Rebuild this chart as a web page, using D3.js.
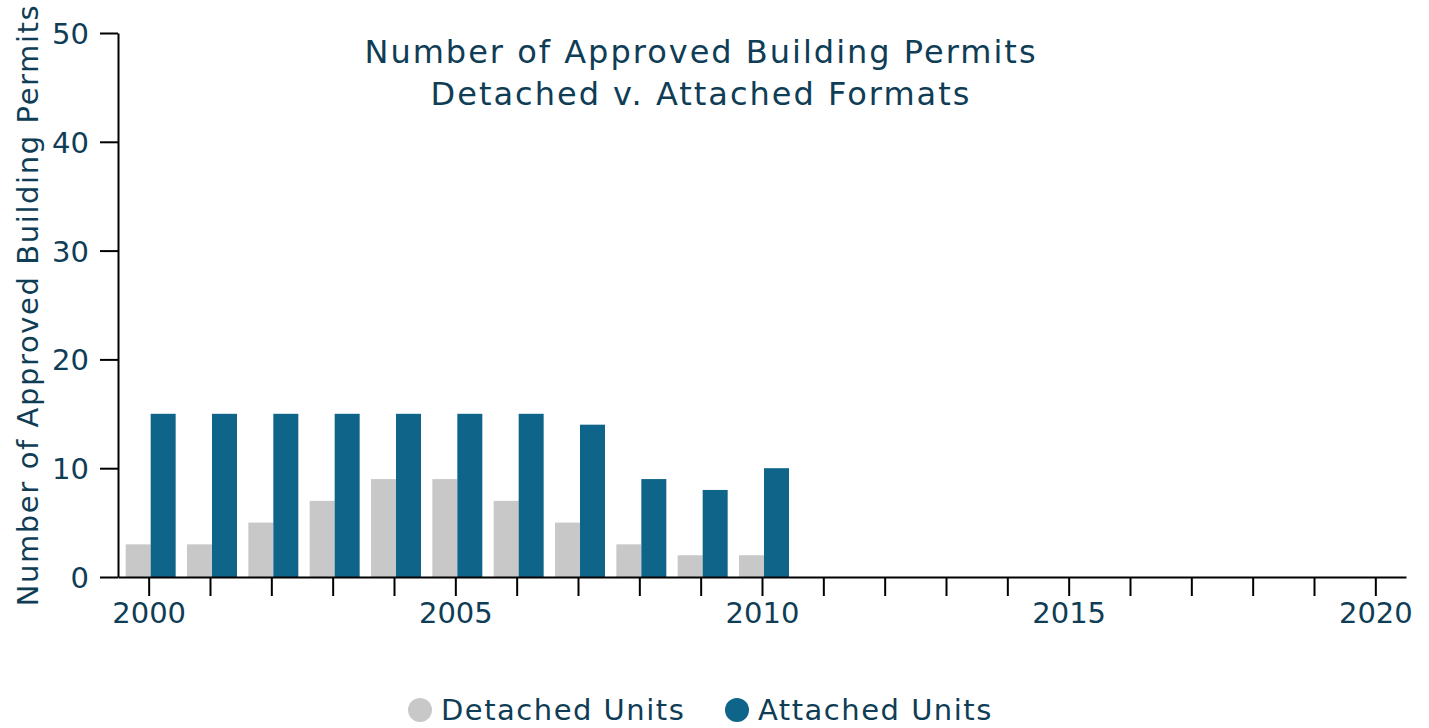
<!DOCTYPE html>
<html>
<head>
<meta charset="utf-8">
<script src="https://cdn.jsdelivr.net/npm/d3@7"></script>
<style>
  body { margin: 0; background: #fff; }
  svg text { font-family: "DejaVu Sans", sans-serif; fill: #0f3d55; }
</style>
</head>
<body>
<div id="chart"></div>
<script>
const years = [2000, 2001, 2002, 2003, 2004, 2005, 2006, 2007, 2008, 2009, 2010];
const detached = [3, 3, 5, 7, 9, 9, 7, 5, 3, 2, 2];
const attached = [15, 15, 15, 15, 15, 15, 15, 14, 9, 8, 10];
const seriesNames = ["Detached Units", "Attached Units"];
const colors = ["#c8c8c8", "#0f648a"];
const yTicks = [0, 10, 20, 30, 40, 50];
const xLabelYears = [2000, 2005, 2010, 2015, 2020];

const width = 1429, height = 728;
const margin = {top: 33, right: 23, bottom: 151, left: 118};

const svg = d3.select("#chart")
  .append("svg")
  .attr("width", width)
  .attr("height", height);

const x = d3.scaleLinear()
  .domain([1999.5, 2020.5])
  .range([margin.left, width - margin.right]);

const y = d3.scaleLinear()
  .domain([0, 50])
  .range([height - margin.bottom, margin.top]);

const sub = d3.scaleBand()
  .domain(seriesNames)
  .range([-23, 27]);

const rows = years.map((yr, i) => ({year: yr, values: [detached[i], attached[i]]}));

// bars
const groups = svg.append("g").selectAll("g")
  .data(rows)
  .enter()
  .append("g")
  .attr("transform", d => `translate(${x(d.year)},0)`);

groups.selectAll("rect")
  .data(d => d.values.map((v, k) => ({key: seriesNames[k], value: v, k})))
  .enter()
  .append("rect")
  .attr("x", d => sub(d.key))
  .attr("width", sub.bandwidth())
  .attr("y", d => y(d.value))
  .attr("height", d => y(0) - y(d.value))
  .attr("fill", d => colors[d.k]);

// x axis
const xAxis = svg.append("g")
  .attr("transform", `translate(0,${y(0)})`)
  .call(d3.axisBottom(x)
    .tickValues(d3.range(2000, 2021))
    .tickSize(19)
    .tickSizeOuter(0)
    .tickFormat(d => xLabelYears.includes(d) ? d : ""));

// y axis
const yAxis = svg.append("g")
  .attr("transform", `translate(${margin.left},0)`)
  .call(d3.axisLeft(y)
    .tickValues(yTicks)
    .tickSize(18)
    .tickSizeOuter(0)
    .tickFormat(d3.format("d")));

[xAxis, yAxis].forEach(a => {
  a.select(".domain").attr("stroke", "#000").attr("stroke-width", 2);
  a.selectAll(".tick line").attr("stroke", "#000").attr("stroke-width", 2);
  a.selectAll(".tick text").attr("font-size", 29).attr("fill", "#0f3d55");
});
xAxis.selectAll(".tick text").attr("y", 0).attr("dy", "1.6em");
yAxis.selectAll(".tick text").attr("x", -29).attr("dy", "0.36em");

// y label
svg.append("text")
  .attr("transform", `translate(38,305) rotate(-90)`)
  .attr("text-anchor", "middle")
  .attr("font-size", 29)
  .attr("letter-spacing", 1.6)
  .text("Number of Approved Building Permits");

// title
const title = svg.append("text")
  .attr("text-anchor", "middle")
  .attr("font-size", 32)
  .attr("letter-spacing", 2);
title.append("tspan").attr("x", 701).attr("y", 63).text("Number of Approved Building Permits");
title.append("tspan").attr("x", 701).attr("y", 105).text("Detached v. Attached Formats");

// legend
const legend = svg.append("g")
  .selectAll("g")
  .data(seriesNames)
  .enter()
  .append("g")
  .attr("transform", (d, i) => `translate(${[420, 737][i]},710)`);

legend.append("circle")
  .attr("r", 12)
  .attr("fill", (d, i) => colors[i]);

legend.append("text")
  .attr("x", 21)
  .attr("dy", "0.36em")
  .attr("font-size", 29)
  .attr("letter-spacing", 1.5)
  .text(d => d);
</script>
</body>
</html>
